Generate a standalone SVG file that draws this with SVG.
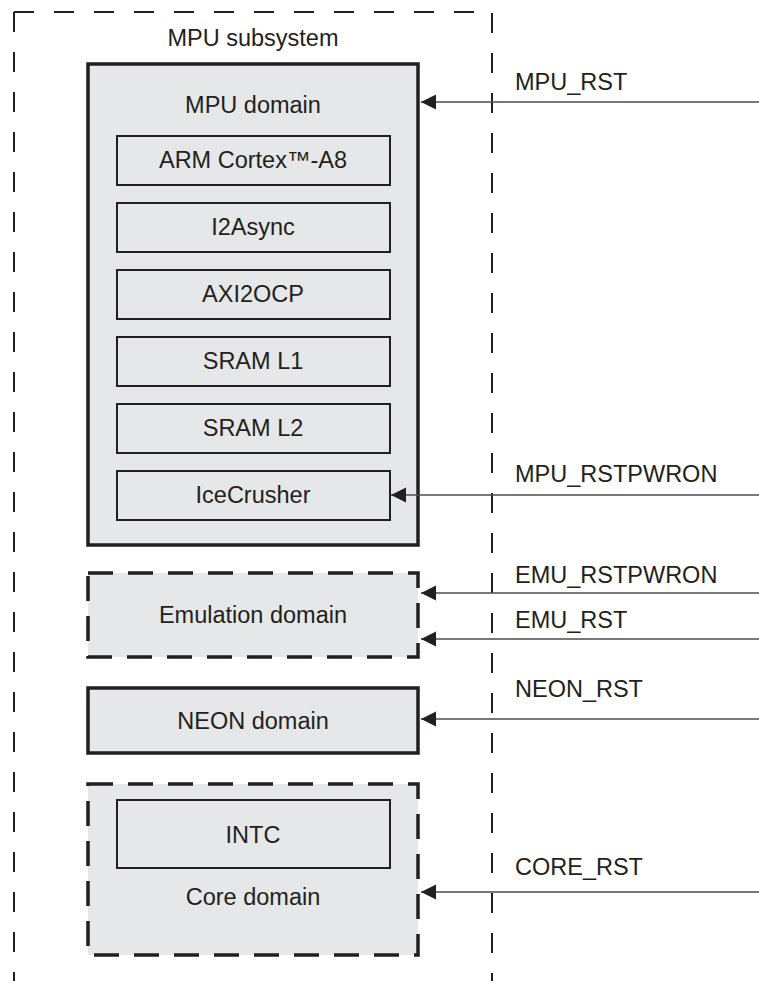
<svg xmlns="http://www.w3.org/2000/svg" width="759" height="981" viewBox="0 0 759 981">
<style>
text{font-family:"Liberation Sans",Arial,sans-serif;font-size:23.5px;fill:#231f20}
.c{text-anchor:middle}
.outer{fill:none;stroke:#231f20;stroke-width:2;stroke-dasharray:20 20}
.dom{fill:#e6e7e8;stroke:#231f20;stroke-width:3.5}
.dash{stroke-dasharray:25 15}
.blk{fill:#e6e7e8;stroke:#231f20;stroke-width:2}
.wire{stroke:#4d4d4d;stroke-width:1.6;fill:none;marker-end:url(#ah)}
</style>
<defs>
<marker id="ah" markerUnits="userSpaceOnUse" markerWidth="16" markerHeight="16" viewBox="0 0 16 16" refX="15" refY="7.5" orient="auto">
<path d="M0,0 L15,7.5 L0,15 Z" fill="#231f20"/>
</marker>
</defs>
<g id="subsystem">
<line class="outer" x1="14" y1="12" x2="14" y2="981"/>
<line class="outer" x1="14" y1="12" x2="492" y2="12"/>
<line class="outer" x1="492" y1="13" x2="492" y2="981"/>
<text class="c" x="253" y="46">MPU subsystem</text>
</g>
<g id="mpu-domain">
<rect class="dom" x="88" y="64" width="330" height="481"/>
<text class="c" x="253" y="113">MPU domain</text>
</g>
<g id="arm"><rect class="blk" x="117" y="136" width="273" height="49"/><text class="c" x="253" y="168">ARM Cortex™-A8</text></g>
<g id="i2async"><rect class="blk" x="117" y="203" width="273" height="49"/><text class="c" x="253" y="235">I2Async</text></g>
<g id="axi2ocp"><rect class="blk" x="117" y="270" width="273" height="49"/><text class="c" x="253" y="302">AXI2OCP</text></g>
<g id="sraml1"><rect class="blk" x="117" y="337" width="273" height="49"/><text class="c" x="253" y="369">SRAM L1</text></g>
<g id="sraml2"><rect class="blk" x="117" y="404" width="273" height="49"/><text class="c" x="253" y="436">SRAM L2</text></g>
<g id="icecrusher"><rect class="blk" x="117" y="471" width="273" height="49"/><text class="c" x="253" y="503">IceCrusher</text></g>
<g id="emulation">
<rect class="dom dash" x="88" y="573" width="330" height="84"/>
<text class="c" x="253" y="623">Emulation domain</text>
</g>
<g id="neon">
<rect class="dom" x="88" y="688" width="330" height="65"/>
<text class="c" x="253" y="729">NEON domain</text>
</g>
<g id="core">
<rect class="dom dash" x="88" y="784" width="330" height="171"/>
<text class="c" x="253" y="905">Core domain</text>
</g>
<g id="intc"><rect class="blk" x="117" y="800" width="273" height="68"/><text class="c" x="253" y="843">INTC</text></g>
<g id="connectors">
<line class="wire" x1="759" y1="102" x2="421" y2="102"/>
<line class="wire" x1="759" y1="495" x2="391" y2="495"/>
<line class="wire" x1="759" y1="593" x2="421" y2="593"/>
<line class="wire" x1="759" y1="639" x2="421" y2="639"/>
<line class="wire" x1="759" y1="719" x2="421" y2="719"/>
<line class="wire" x1="759" y1="892" x2="421" y2="892"/>
<text x="515" y="90">MPU_RST</text>
<text x="515" y="482">MPU_RSTPWRON</text>
<text x="515" y="583">EMU_RSTPWRON</text>
<text x="515" y="628">EMU_RST</text>
<text x="515" y="697">NEON_RST</text>
<text x="515" y="875">CORE_RST</text>
</g>
</svg>
